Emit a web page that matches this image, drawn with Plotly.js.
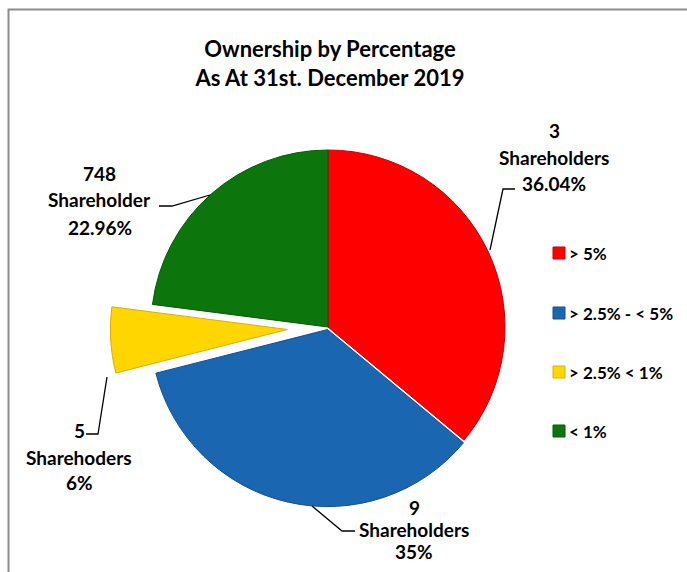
<!DOCTYPE html>
<html>
<head>
<meta charset="utf-8">
<script src="https://cdn.plot.ly/plotly-3.0.1.min.js"></script>
<style>
  html, body { margin: 0; padding: 0; background: #ffffff; }
  #chart { width: 687px; height: 572px; }
</style>
</head>
<body>
<div id="chart"></div>
<script>
// ---- data ----
const categories = ['> 5%', '> 2.5% - < 5%', '> 2.5% < 1%', '< 1%'];
const percents = [36.04, 35, 6, 22.96];
const holderCounts = ['3', '9', '5', '748'];
const holderWords = ['Shareholders', 'Shareholders', 'Sharehoders', 'Shareholder'];
const percentLabels = ['36.04%', '35%', '6%', '22.96%'];
const titleLines = ['Ownership by Percentage', 'As At 31st. December 2019'];

// ---- style ----
const colors = ['#FF0000', '#1A66B0', '#FFD600', '#0C760C'];
const edgeColors = ['#C80000', '#10508F', '#D9B000', '#075A07'];
const pulls = [0, 0.015, 0.23, 0];
const W = 687, H = 572;
const FONT = 'Lato, "Open Sans", "DejaVu Sans", sans-serif';

function px(x) { return x / W; }
function py(y) { return 1 - y / H; }

// label block placement (pixel centers of each line) and leader-line paths
const labelPos = [
  { x: 554, ys: [131, 157, 183], lead: [[515, 189], [503, 189], [490, 250]] },
  { x: 414, ys: [507, 529, 551], lead: [[355, 531], [342, 531], [312, 506]] },
  { x: 79,  ys: [430, 457, 482], lead: [[86, 434], [98, 434], [107, 377]] },
  { x: 100, ys: [173, 200, 227], lead: [[159, 206], [172, 206], [210, 195]] }
];

const annotations = [];
const shapes = [];

// chart frame
shapes.push({
  type: 'rect', xref: 'paper', yref: 'paper',
  x0: px(8.5), x1: 1.2, y0: -0.2, y1: py(9.5),
  line: { color: '#8C8C8C', width: 2 }, fillcolor: 'rgba(0,0,0,0)', layer: 'below'
});

// data labels
categories.forEach(function (c, i) {
  const lp = labelPos[i];
  const lines = [holderCounts[i], holderWords[i], percentLabels[i]];
  lines.forEach(function (t, k) {
    annotations.push({
      text: t, showarrow: false, xref: 'paper', yref: 'paper',
      x: px(lp.x), y: py(lp.ys[k]), xanchor: 'center', yanchor: 'middle',
      font: { family: FONT, size: 19, color: '#000000', weight: 700 }
    });
  });
  const path = lp.lead.map(function (p, k) {
    return (k === 0 ? 'M ' : 'L ') + px(p[0]) + ' ' + py(p[1]);
  }).join(' ');
  shapes.push({
    type: 'path', xref: 'paper', yref: 'paper', path: path,
    line: { color: '#000000', width: 1.3 }
  });
});

// legend (drawn from categories/colors)
const legendYs = [253, 313, 372, 431];
categories.forEach(function (c, i) {
  const y = legendYs[i];
  shapes.push({
    type: 'rect', xref: 'paper', yref: 'paper',
    x0: px(553), x1: px(565), y0: py(y + 6), y1: py(y - 6),
    fillcolor: colors[i], line: { color: edgeColors[i], width: 1 }
  });
  annotations.push({
    text: c, showarrow: false, xref: 'paper', yref: 'paper',
    x: px(567), y: py(y), xanchor: 'left', yanchor: 'middle',
    font: { family: FONT, size: 17, color: '#000000', weight: 700 }
  });
});

const trace = {
  type: 'pie',
  labels: categories,
  values: percents,
  sort: false,
  direction: 'clockwise',
  rotation: 0,
  pull: pulls,
  textinfo: 'none',
  hoverinfo: 'label+percent',
  showlegend: false,
  marker: { colors: colors, line: { color: edgeColors, width: 1 } },
  domain: { x: [0.16054, 0.79434], y: [0.04771, 0.80893] }
};

const layout = {
  width: W, height: H,
  margin: { l: 0, r: 0, t: 0, b: 0 },
  paper_bgcolor: '#ffffff',
  plot_bgcolor: '#ffffff',
  showlegend: false,
  title: {
    text: titleLines.join('<br>'),
    x: px(330), xanchor: 'center',
    y: 1 - 57 / H, yanchor: 'middle', yref: 'container',
    font: { family: FONT, size: 22, color: '#000000', weight: 700 }
  },
  annotations: annotations,
  shapes: shapes
};

Plotly.newPlot('chart', [trace], layout, { displayModeBar: false, staticPlot: true });
</script>
</body>
</html>
